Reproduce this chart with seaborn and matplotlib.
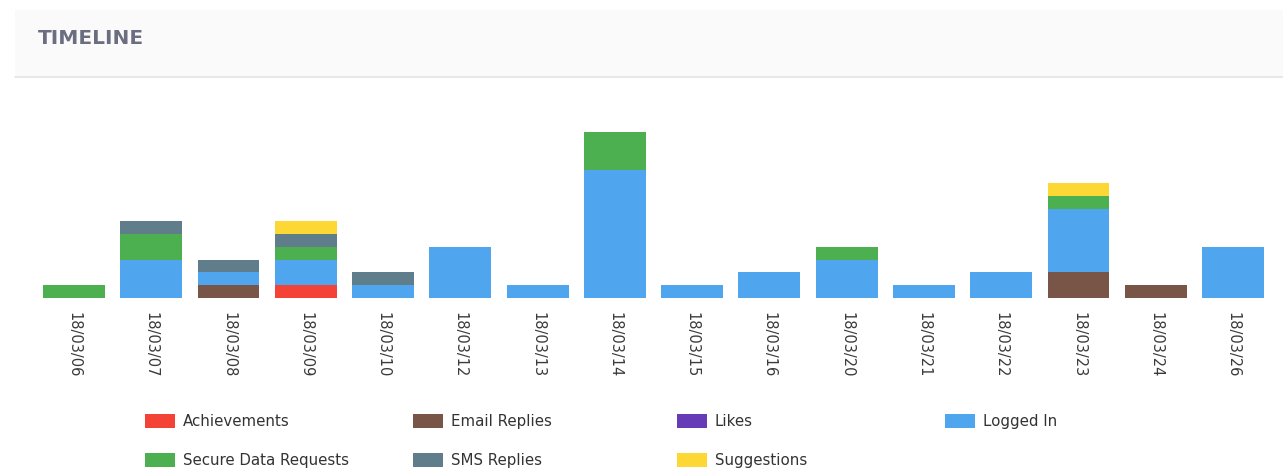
import matplotlib
matplotlib.use("Agg")
import matplotlib.pyplot as plt
from matplotlib.patches import Rectangle
from matplotlib.lines import Line2D
import seaborn as sns
import pandas as pd

# ---- data ----
dates = ["18/03/06", "18/03/07", "18/03/08", "18/03/09", "18/03/10", "18/03/12",
         "18/03/13", "18/03/14", "18/03/15", "18/03/16", "18/03/20", "18/03/21",
         "18/03/22", "18/03/23", "18/03/24", "18/03/26"]
series = ["Achievements", "Email Replies", "Likes", "Logged In",
          "Secure Data Requests", "SMS Replies", "Suggestions"]
achievements = [0, 0, 0, 1, 0, 0, 0, 0, 0, 0, 0, 0, 0, 0, 0, 0]
email_replies = [0, 0, 1, 0, 0, 0, 0, 0, 0, 0, 0, 0, 0, 2, 1, 0]
likes = [0, 0, 0, 0, 0, 0, 0, 0, 0, 0, 0, 0, 0, 0, 0, 0]
logged_in = [0, 3, 1, 2, 1, 4, 1, 10, 1, 2, 3, 1, 2, 5, 0, 4]
secure_data = [1, 2, 0, 1, 0, 0, 0, 3, 0, 0, 1, 0, 0, 1, 0, 0]
sms_replies = [0, 1, 1, 1, 1, 0, 0, 0, 0, 0, 0, 0, 0, 0, 0, 0]
suggestions = [0, 0, 0, 1, 0, 0, 0, 0, 0, 0, 0, 0, 0, 1, 0, 0]
colors = ["#F44336", "#795548", "#673AB7", "#4FA6EE", "#4CAF50", "#607D8B", "#FDD835"]

values = [achievements, email_replies, likes, logged_in, secure_data, sms_replies, suggestions]
rows = []
for name, vals in zip(series, values):
    for d, v in zip(dates, vals):
        rows.append({"date": d, "type": name, "count": v})
df = pd.DataFrame(rows)

W, H = 1283, 469
sns.set_theme(style="white")
plt.rcParams["font.family"] = ["DejaVu Sans"]

fig = plt.figure(figsize=(W / 100, H / 100), dpi=100)
fig.patch.set_facecolor("white")


def fx(px):
    return px / W


def fy(py):
    return 1 - py / H


# header panel
fig.patches.append(Rectangle((fx(15), fy(77)), 1 - fx(15), fy(10) - fy(77),
                             transform=fig.transFigure, facecolor="#FAFAFA",
                             edgecolor="none", zorder=0))
fig.lines.append(Line2D([fx(15), 1], [fy(77.5), fy(77.5)], transform=fig.transFigure,
                        color="#E6E6E6", linewidth=1.3))
fig.text(fx(38), fy(38.5), "TIMELINE", fontsize=14.5, fontweight="bold",
         color="#6B6E80", va="center", ha="left")

# axes
left_px, right_px = 35.4, 1271.6
base_px, top_px = 298, 132
ax = fig.add_axes([fx(left_px), fy(base_px), fx(right_px - left_px), (base_px - top_px) / H])
ax.set_facecolor("none")

hue_order = series[::-1]
sns.histplot(data=df, x="date", hue="type", weights="count", multiple="stack",
             discrete=True, shrink=0.8, hue_order=hue_order,
             palette=dict(zip(series, colors)), linewidth=0, alpha=1,
             legend=False, ax=ax)

ax.set_xlim(-0.5, len(dates) - 0.5)
ax.set_ylim(0, 13)
ax.set_xticks(range(len(dates)))
ax.set_xticklabels(dates, rotation=270, fontsize=10.5, color="#3A3A3A")
ax.tick_params(axis="x", length=0, pad=10)
ax.set_yticks([])
ax.set_xlabel("")
ax.set_ylabel("")
for s in ax.spines.values():
    s.set_visible(False)

# legend (row-major, 4 columns)
col_x = [145, 413, 677, 945]
row_y = [421, 460]
for i, (name, c) in enumerate(zip(series, colors)):
    r, k = divmod(i, 4)
    x0, yc = col_x[k], row_y[r]
    fig.patches.append(Rectangle((fx(x0), fy(yc + 7)), fx(30), 14 / H,
                                 transform=fig.transFigure, facecolor=c, edgecolor="none"))
    fig.text(fx(x0 + 38), fy(yc), name, fontsize=10.8, color="#333333",
             va="center", ha="left")

fig.savefig("out.png", dpi=100)
